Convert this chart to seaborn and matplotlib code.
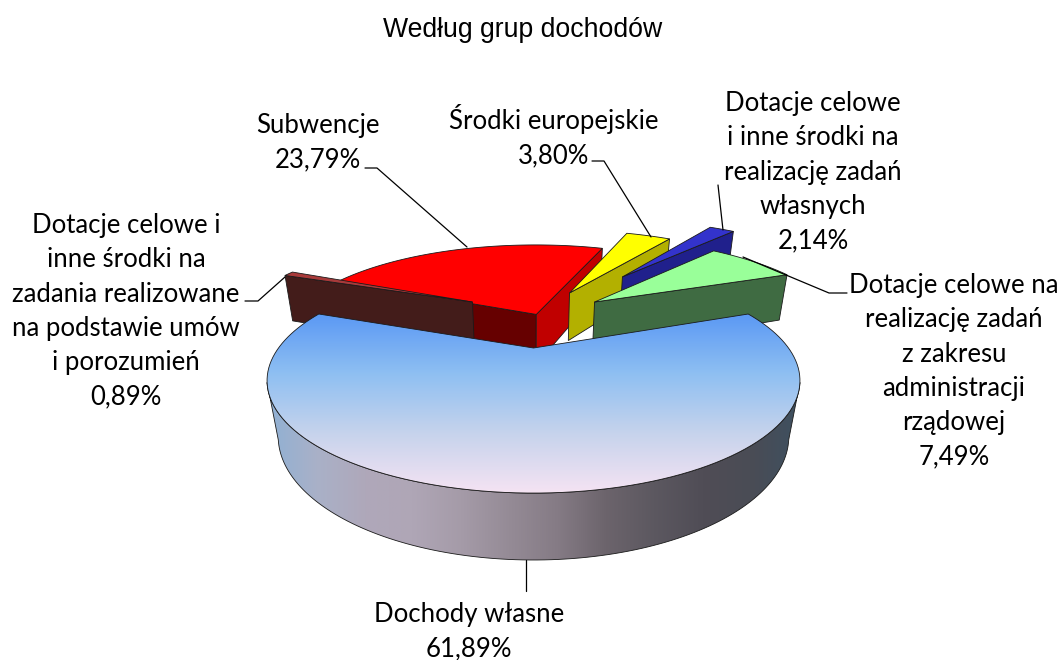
import numpy as np
import matplotlib
matplotlib.use("Agg")
import matplotlib.pyplot as plt
from matplotlib.patches import Polygon
import seaborn as sns

# values in clockwise drawing order, the big slice sits at the bottom
categories = ["Dotacje celowe i inne środki na zadania realizowane na podstawie umów i porozumień",
              "Subwencje", "Środki europejskie",
              "Dotacje celowe i inne środki na realizację zadań własnych",
              "Dotacje celowe na realizację zadań z zakresu administracji rządowej",
              "Dochody własne"]
shares = [0.89, 23.79, 3.80, 2.14, 7.49, 61.89]
share_labels = ["0,89%", "23,79%", "3,80%", "2,14%", "7,49%", "61,89%"]
label_lines = [["Dotacje celowe i", "inne środki na", "zadania realizowane", "na podstawie umów", "i porozumień"],
               ["Subwencje"],
               ["Środki europejskie"],
               ["Dotacje celowe", "i inne środki na", "realizację zadań", "własnych"],
               ["Dotacje celowe na", "realizację zadań", "z zakresu", "administracji", "rządowej"],
               ["Dochody własne"]]

top_colors = ["#A83A3A", "#FF0000", "#FFFF00", "#3333CC", "#99FF99", "#7FB0F2"]
start_colors = ["#431C1A", "#660000", "#B3B000", "#20208C", "#3F6B42", "#555555"]
end_colors = ["#431C1A", "#C00000", "#B3B000", "#20208C", "#3F6B42", "#555555"]

# how far each slice is pulled out, in pie radii (x right, y to the back)
explode = [(-0.275, 0.513), (0.012, 0.36), (0.167, 0.632), (0.436, 0.863), (0.275, 0.513), (0.0, 0.0)]
slice_radius = [1.02, 1.05, 1.08, 1.10, 1.05, 1.0]
draw_order = [1, 0, 2, 3, 4, 5]

label_pos = [(126, 233), (318, 133), (554, 129), (813, 111), (954, 293), (469, 622)]
leaders = [[(245, 301), (258, 301), (285, 277)],
           [(365, 168), (377, 168), (467, 247)],
           [(592, 161), (604, 161), (651, 237)],
           [(718, 185), (723, 230)],
           [(847, 293), (829, 293), (743, 257)],
           [(526, 560), (526, 591)]]

top_grad = ["#5A98F4", "#8EBFF2", "#C6D3EC", "#F5E3F3"]
side_grad = ["#8FB0D4", "#A9B1C8", "#AFA8BA", "#AFA6B6", "#A59BA8", "#958B96",
             "#857B85", "#6C646C", "#5C5860", "#504D56", "#4A4C55", "#3E5060"]

# camera model, screen pixels
CX, CY = 533.5, 348.0
R, V, D = 255.0, 103.0, 56.0
K, M = 0.29, 0.04
LINE_H = 34.3


def project(x, y, z=0.0):
    d = 1 + K * y + M * z
    return np.column_stack([CX + R * x / d, CY + (-V * y + D * z) / d])


def rim(a1, a2, off, rad=1.0, z=0.0, n=120):
    t = np.radians(np.linspace(a1, a2, n))
    return project(off[0] + rad * np.sin(t), off[1] + rad * np.cos(t), z)


def faces_camera(nx, ny, px, py):
    # the camera stands at (0, -1/K) in the plane of the pie
    return nx * (0 - px) + ny * (-1 / K - py) > 0


def add_gradient(ax, poly, colors, horizontal):
    cmap = sns.blend_palette(colors, as_cmap=True)
    xy = poly.get_xy()
    grad = np.linspace(0, 1, 256)
    grad = grad[None, :] if horizontal else grad[:, None]
    im = ax.imshow(grad, cmap=cmap, aspect="auto", zorder=poly.get_zorder(),
                   extent=(xy[:, 0].min(), xy[:, 0].max(), xy[:, 1].max(), xy[:, 1].min()))
    ax.add_patch(poly)
    im.set_clip_path(poly)


sns.set_theme(style="white")
plt.rcParams["font.family"] = ["Lato", "DejaVu Sans"]

fig, ax = plt.subplots(figsize=(10.61, 6.6), dpi=100)
ax.set_position([0, 0, 1, 1])

spans = np.array(shares) * 3.6
start = -(360 - spans[-1]) / 2
edges = start + np.concatenate([[0], np.cumsum(spans)])
line = dict(edgecolor="#1A1A1A", linewidth=0.6)

z = 2
for i in draw_order:
    a1, a2 = edges[i], edges[i + 1]
    ox, oy = explode[i]
    rr = slice_radius[i]
    apex_top = project(np.array([ox]), np.array([oy]))
    apex_low = project(np.array([ox]), np.array([oy]), 1.0)

    # outer wall, only the part turned to the camera
    t = np.linspace(a1, a2, 240)
    rad = np.radians(t)
    seen = faces_camera(np.sin(rad), np.cos(rad), ox + rr * np.sin(rad), oy + rr * np.cos(rad))
    if seen.any():
        vis = t[seen]
        wall = np.vstack([rim(vis[0], vis[-1], explode[i], rr),
                          rim(vis[0], vis[-1], explode[i], rr, 1.0)[::-1]])
        p = Polygon(wall, closed=True, facecolor="none", zorder=z, **line)
        if i == 5:
            add_gradient(ax, p, side_grad, True)
        else:
            p.set_facecolor(end_colors[i])
            ax.add_patch(p)
    z += 1

    # the two cut faces
    for ang, col, sign in [(a1, start_colors[i], -90), (a2, end_colors[i], 90)]:
        n = np.radians(ang + sign)
        if not faces_camera(np.sin(n), np.cos(n), ox, oy):
            continue
        end_top = rim(ang, ang, explode[i], rr, n=1)
        end_low = rim(ang, ang, explode[i], rr, 1.0, n=1)
        ax.add_patch(Polygon(np.vstack([apex_top, end_top, end_low, apex_low]), closed=True,
                             facecolor=col, zorder=z, **line))
        z += 1

    top = Polygon(np.vstack([apex_top, rim(a1, a2, explode[i], rr)]), closed=True,
                  facecolor=top_colors[i], zorder=z, **line)
    if i == 5:
        top.set_facecolor("none")
        add_gradient(ax, top, top_grad, False)
    else:
        ax.add_patch(top)
    z += 1

for pts in leaders:
    xs, ys = zip(*pts)
    ax.plot(xs, ys, color="black", lw=0.9, zorder=z)

for lines, pct, (x, y) in zip(label_lines, share_labels, label_pos):
    for j, txt in enumerate(lines + [pct]):
        ax.text(x, y + j * LINE_H, txt, ha="center", va="baseline", fontsize=18.5,
                color="black", zorder=z + 1)

ax.text(523, 37, "Według grup dochodów", ha="center", va="baseline", fontsize=19.2,
        family="Liberation Sans", color="black")

ax.set_xlim(0, 1061)
ax.set_ylim(660, 0)
ax.axis("off")
fig.savefig("out.png", dpi=100, facecolor="white")
